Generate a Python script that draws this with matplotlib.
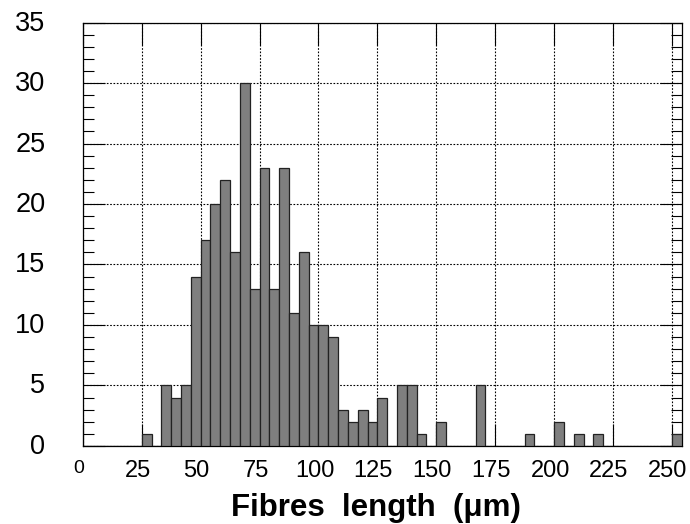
import numpy as np
import matplotlib
matplotlib.use("Agg")
import matplotlib.pyplot as plt
import matplotlib.transforms as mtransforms
from matplotlib.ticker import MultipleLocator

# histogram: 61 bins of width 250/60 um starting at 0
bin_width = 250 / 60
counts = [0, 0, 0, 0, 0, 0, 1, 0, 5, 4,
          5, 14, 17, 20, 22, 16, 30, 13, 23, 13,
          23, 11, 16, 10, 10, 9, 3, 2, 3, 2,
          4, 0, 5, 5, 1, 0, 2, 0, 0, 0,
          5, 0, 0, 0, 0, 1, 0, 0, 2, 0,
          1, 0, 1, 0, 0, 0, 0, 0, 0, 0,
          1]
x_ticks = [0, 25, 50, 75, 100, 125, 150, 175, 200, 225, 250]
y_ticks = [0, 5, 10, 15, 20, 25, 30, 35]

plt.rcParams['font.family'] = ['Liberation Sans', 'DejaVu Sans']

fig = plt.figure(figsize=(6.9, 5.24), dpi=100)
ax = fig.add_axes([0.12, 0.149, 0.868, 0.808])

edges = np.arange(len(counts)) * bin_width
ax.bar(edges, counts, width=bin_width, align='edge', color='#7f7f7f',
       edgecolor='#222222', linewidth=0.9, zorder=3)

ax.set_xlim(0, len(counts) * bin_width)
ax.set_ylim(0, 35)
ax.set_xticks(x_ticks)
ax.set_yticks(y_ticks)
ax.yaxis.set_minor_locator(MultipleLocator(1))

ax.grid(True, which='major', linestyle=(0, (1.5, 1.5)), color='black', linewidth=0.8, zorder=0)
ax.tick_params(axis='both', which='major', direction='in', length=16, width=0.8,
               top=True, right=True)
ax.tick_params(axis='y', which='minor', direction='in', length=8, width=0.8, right=True)
ax.tick_params(axis='y', which='major', pad=27, labelsize=19.5)
ax.tick_params(axis='x', which='major', pad=10, labelsize=17)

# labels in the original sit a few pixels left of / above their ticks
shift_x = mtransforms.ScaledTranslation(-4 / 100, 0, fig.dpi_scale_trans)
shift_y = mtransforms.ScaledTranslation(0, 2 / 100, fig.dpi_scale_trans)
xl = ax.get_xticklabels()
for lab in xl:
    lab.set_transform(lab.get_transform() + shift_x)
xl[0].set_fontsize(14)
for lab in ax.get_yticklabels():
    lab.set_transform(lab.get_transform() + shift_y)

for s in ax.spines.values():
    s.set_linewidth(0.9)

ax.set_xlabel('Fibres  length  (\u03bcm)', fontsize=22.5, fontweight='bold', labelpad=8)
ax.xaxis.label.set_x(0.49)

fig.savefig('out.png', dpi=100)
